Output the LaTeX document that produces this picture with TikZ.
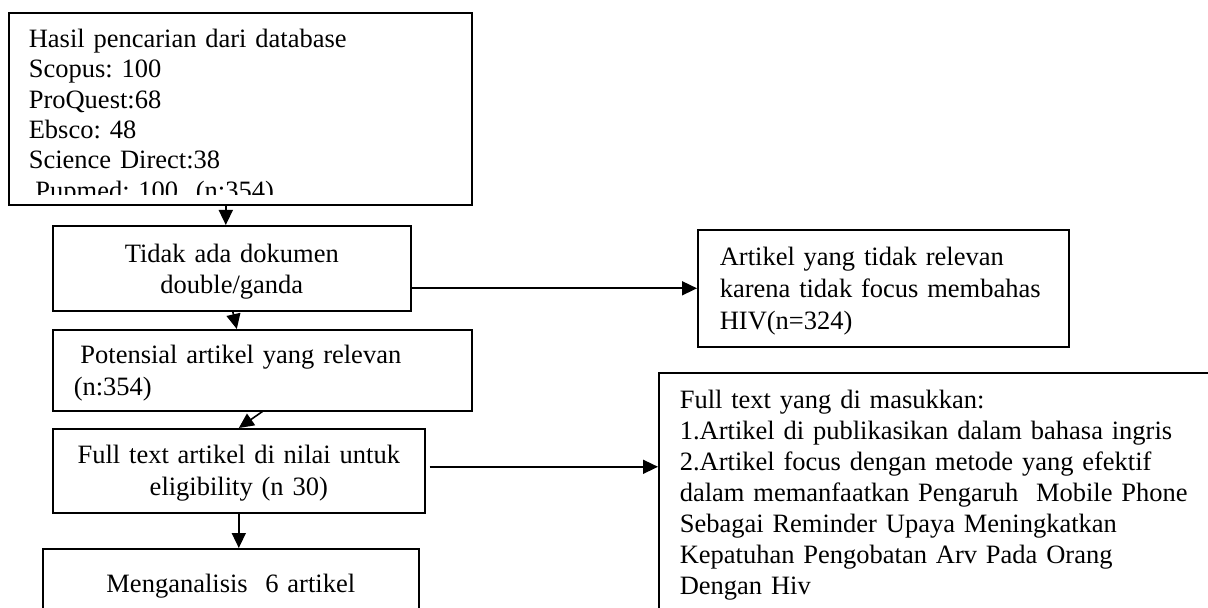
\documentclass[tikz,border=0pt]{standalone}
\usepackage{fontspec}
\setmainfont{Liberation Serif}
\usetikzlibrary{arrows.meta}
\frenchspacing
\begin{document}
\begin{tikzpicture}[x=1pt, y=-1pt, thick, >={Triangle[length=7.5pt, width=7pt]},
    kotak/.style = {draw, anchor=north west, inner ysep=0pt, font=\fontsize{13.25pt}{16pt}\selectfont}]
  \useasboundingbox (0,0) rectangle (604,304);
  \clip (0,0) rectangle (604,304);
  \node[kotak, minimum width=231.5pt, minimum height=96pt, inner sep=0pt] (1) at (4,6) {};
  \begin{scope}
    \clip (1.north west) rectangle ([yshift=5.5pt]1.south east);
    \node[anchor=north west, inner sep=0pt, text width=215pt, align=left, text height=9pt,
      font=\fontsize{13.25pt}{15.2pt}\selectfont] (1a) at (14,14.3)
      {Hasil pencarian dari database\\ Scopus: 100\\ ProQuest:68\\ Ebsco: 48\\
       Science Direct:38\\ \hspace*{3.3pt}Pupmed: 100\ \ (n:354)};
  \end{scope}
  \node[kotak, text width=171pt, inner xsep=4pt, align=center, text height=18.5pt, text depth=24pt,
    font=\fontsize{13.25pt}{15.5pt}\selectfont] (2) at (26,112.5) {Tidak ada dokumen\\ double/ganda};
  \node[kotak, text width=163.5pt, inner xsep=11pt, align=left, text height=18pt, text depth=40.5pt] (3) at (348.5,114.5)
    {Artikel yang tidak relevan\\ karena tidak focus membahas\\ HIV(n=324)};
  \node[kotak, text width=188.5pt, inner xsep=10.5pt, align=left, text height=17pt, text depth=23.5pt] (4) at (26,164.5)
    {\hspace*{3.3pt}Potensial artikel yang relevan\\ (n:354)};
  \node[kotak, text width=178pt, inner xsep=4pt, align=center, text height=17.5pt, text depth=24.5pt] (5) at (26,214)
    {Full text artikel di nilai untuk\\ eligibility (n 30)};
  \node[kotak, text width=180pt, inner xsep=4pt, align=center, text height=22pt, text depth=22pt] (6) at (21,274)
    {Menganalisis\ \ 6 artikel};
  \node[kotak, text width=290pt, inner xsep=10.5pt, align=left, text height=18pt, text depth=116pt,
    font=\fontsize{13.25pt}{15.45pt}\selectfont] (7) at (329,186)
    {Full text yang di masukkan:\\ 1.Artikel di publikasikan dalam bahasa ingris\\
     2.Artikel focus dengan metode yang efektif\\ dalam memanfaatkan Pengaruh\ \ Mobile Phone\\
     Sebagai Reminder Upaya Meningkatkan\\ Kepatuhan Pengobatan Arv Pada Orang\\ Dengan Hiv};
  \draw[->] ([xshift=-7.25pt]1.south) -- ([xshift=-7.25pt]1.south |- 2.north);
  \draw[->] ([xshift=0.5pt]2.south) -- ([xshift=-12.75pt]4.north);
  \draw[->] (4.south) -- (5.north);
  \draw[->] (5.south) -- (5.south |- 6.north);
  \draw[->] (2.east |- 3.west) -- (3.west);
  \draw[->] ([xshift=2pt, yshift=2pt]5.east) -- ([yshift=2pt]5.east -| 7.west);
\end{tikzpicture}
\end{document}
